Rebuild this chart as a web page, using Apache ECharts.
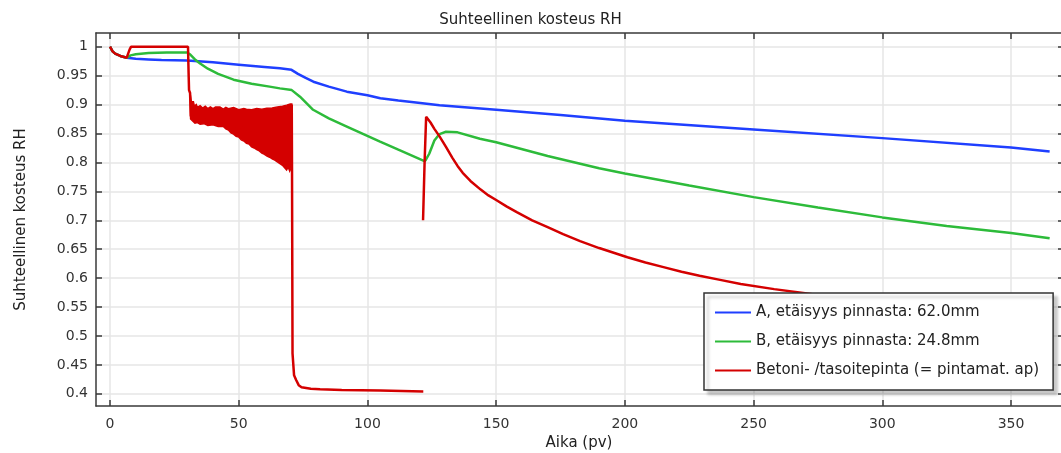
<!DOCTYPE html>
<html>
<head>
<meta charset="utf-8">
<title>Suhteellinen kosteus RH</title>
<script src="https://cdn.jsdelivr.net/npm/echarts@6.0.0/dist/echarts.min.js"></script>
<style>
  html, body { margin: 0; padding: 0; background: #fff; }
  #chart { width: 1061px; height: 453px; }
</style>
</head>
<body>
<div id="chart"></div>
<script>
// Tick positions
const xTicks = [0, 50, 100, 150, 200, 250, 300, 350];
const yTicks = [0.4, 0.45, 0.5, 0.55, 0.6, 0.65, 0.7, 0.75, 0.8, 0.85, 0.9, 0.95, 1];

// Series names
const nameA = 'A, etäisyys pinnasta: 62.0mm';
const nameB = 'B, etäisyys pinnasta: 24.8mm';
const nameC = 'Betoni- /tasoitepinta (= pintamat. ap)';

// A: 62.0 mm from surface  [day, RH]
const seriesA = [
  [0, 1.0], [1, 0.992], [2, 0.988], [4, 0.984], [6.5, 0.981], [10, 0.979], [15, 0.978],
  [20, 0.977], [30, 0.976], [40, 0.973], [50, 0.969], [60, 0.965], [66, 0.9626],
  [70.5, 0.960], [73, 0.953], [76, 0.946], [79, 0.9395], [85, 0.931], [92, 0.9223],
  [100, 0.916], [105, 0.9108], [112, 0.907], [118, 0.904], [128, 0.899], [150, 0.891],
  [175, 0.882], [200, 0.872], [250, 0.857], [300, 0.842], [350, 0.826], [365, 0.819]
];

// B: 24.8 mm from surface
const seriesB = [
  [0, 1.0], [1, 0.992], [2, 0.988], [4, 0.984], [6.5, 0.981], [8, 0.985], [10, 0.987],
  [15, 0.989], [22, 0.990], [30, 0.990], [31, 0.987], [33, 0.978], [35, 0.971],
  [38, 0.962], [42, 0.953], [48, 0.943], [55, 0.936], [62, 0.931], [66, 0.928],
  [70.6, 0.925], [73.8, 0.9136], [78.9, 0.891], [85, 0.876], [92, 0.862],
  [104.9, 0.836], [112, 0.822], [121.7, 0.803], [122.5, 0.803], [124, 0.815],
  [126, 0.838], [128, 0.849], [130.5, 0.853], [135, 0.852], [143.7, 0.841],
  [150, 0.835], [170, 0.811], [190, 0.790], [200, 0.781], [225, 0.760], [250, 0.740],
  [275, 0.722], [300, 0.705], [325, 0.690], [350, 0.678], [365, 0.669]
];

// Concrete / screed surface, first period (until the surface is covered)
const surfaceEarly = [
  [0, 1.0], [1, 0.992], [2, 0.988], [4, 0.984], [6.5, 0.981], [7.2, 0.982], [7.6, 0.995],
  [8.2, 1.0], [30.3, 1.0], [30.5, 0.96], [30.7, 0.925], [31.1, 0.92], [31.4, 0.88],
  [70.4, 0.84], [70.6, 0.9], [70.7, 0.79], [70.9, 0.47], [71.5, 0.432], [72.3, 0.424],
  [73.3, 0.415], [74.4, 0.4115], [78, 0.409], [81.6, 0.408], [90, 0.4067],
  [105, 0.4057], [121.7, 0.404]
];

// Concrete / screed surface, after coating
const surfaceLate = [
  [121.6, 0.70], [122.2, 0.80], [122.8, 0.879], [123.5, 0.877], [124.5, 0.869],
  [126, 0.858], [128, 0.845], [130.5, 0.827], [133, 0.808], [135, 0.794], [137, 0.782],
  [140, 0.768], [144, 0.753], [147, 0.743], [150, 0.735], [154, 0.724], [158, 0.714],
  [164, 0.700], [170, 0.688], [176, 0.676], [182.6, 0.664], [190, 0.652], [201, 0.636],
  [208, 0.627], [215, 0.619], [222, 0.611], [229, 0.604], [237, 0.597], [245, 0.590],
  [258, 0.581], [270, 0.574], [280, 0.568], [300, 0.558], [315, 0.551], [330, 0.545],
  [348, 0.538], [365, 0.531]
];

// Oscillating surface RH between day 31 and 70: upper and lower edges of the band
const bandTop = [
  [31.1, 0.92], [31.6, 0.905], [32.4, 0.905], [32.8, 0.897], [33.5, 0.9], [34, 0.895],
  [35, 0.898], [36, 0.894], [37, 0.897], [38, 0.893], [39, 0.896], [40, 0.893],
  [41, 0.896], [42.7, 0.896], [44, 0.892], [45, 0.895], [46, 0.893], [48, 0.895],
  [50, 0.891], [52, 0.893], [53, 0.8918], [55, 0.891], [57, 0.893], [59, 0.892],
  [60.9, 0.8935], [63, 0.894], [65, 0.896], [67, 0.897], [68.6, 0.899], [70, 0.901],
  [70.6, 0.901]
];
const bandBottom = [
  [31.1, 0.92], [31.3, 0.875], [32, 0.872], [33, 0.868], [34, 0.869], [35, 0.866],
  [36.5, 0.867], [38, 0.864], [40, 0.865], [42, 0.862], [44, 0.862], [45, 0.858],
  [46, 0.856], [47, 0.851], [48, 0.849], [49, 0.845], [50, 0.844], [51, 0.839],
  [52, 0.837], [53, 0.833], [54, 0.832], [55, 0.827], [56, 0.825], [57, 0.822],
  [58, 0.82], [59, 0.816], [60, 0.814], [61, 0.811], [62, 0.809], [63, 0.806],
  [64, 0.804], [65, 0.801], [66, 0.798], [67, 0.795], [68, 0.79], [68.6, 0.787],
  [69.2, 0.792], [69.8, 0.785], [70.3, 0.79], [70.6, 0.80]
];

const FONT = 'DejaVu Sans';
const BLUE = '#1f3fff';
const GREEN = '#2dbb3a';
const RED = '#d40000';
const AXIS = '#3a3a3a';
const GRID = '#e6e6e6';

const xRange = { min: -5.44, max: 369.8 };
const yRange = { min: 0.379, max: 1.0237 };

function fmtY(v) { return String(parseFloat(v.toFixed(2))); }

const chart = echarts.init(document.getElementById('chart'), null, { renderer: 'canvas' });

chart.setOption({
  animation: false,
  backgroundColor: '#fff',
  textStyle: { fontFamily: FONT },
  title: {
    text: 'Suhteellinen kosteus RH',
    left: 'center',
    top: 8,
    textStyle: { fontFamily: FONT, fontSize: 15, fontWeight: 'normal', color: '#222' }
  },
  grid: { left: 96, right: -1, top: 33, bottom: 47, containLabel: false, outerBoundsMode: 'none' },
  legend: {
    data: [nameA, nameB, nameC],
    orient: 'vertical',
    left: 704,
    top: 293,
    padding: [12, 14, 12, 10],
    itemWidth: 36,
    itemHeight: 14,
    itemGap: 14,
    backgroundColor: '#fff',
    borderColor: '#333',
    borderWidth: 1.5,
    shadowColor: 'rgba(0,0,0,0.22)',
    shadowBlur: 3,
    shadowOffsetX: 4,
    shadowOffsetY: 4,
    selectedMode: false,
    itemStyle: { opacity: 0, borderWidth: 0 },
    textStyle: { fontFamily: FONT, fontSize: 15, color: '#222' }
  },
  xAxis: [
    {
      type: 'value', position: 'bottom', min: xRange.min, max: xRange.max,
      name: 'Aika (pv)', nameLocation: 'middle', nameGap: 27,
      nameTextStyle: { fontFamily: FONT, fontSize: 15, color: '#222' },
      axisLine: { show: true, onZero: false, lineStyle: { color: AXIS, width: 1.5 } },
      axisTick: { show: true, inside: true, length: 6, customValues: xTicks, lineStyle: { color: AXIS, width: 1.5 } },
      axisLabel: { customValues: xTicks, margin: 11, fontFamily: FONT, fontSize: 14, color: '#333' },
      splitLine: { show: true, lineStyle: { color: GRID, width: 1.5 } }
    },
    {
      type: 'value', position: 'top', min: xRange.min, max: xRange.max,
      axisLine: { show: true, onZero: false, lineStyle: { color: AXIS, width: 1.5 } },
      axisTick: { show: true, inside: true, length: 6, customValues: xTicks, lineStyle: { color: AXIS, width: 1.5 } },
      axisLabel: { show: false },
      splitLine: { show: false }
    }
  ],
  yAxis: [
    {
      type: 'value', position: 'left', min: yRange.min, max: yRange.max,
      name: 'Suhteellinen kosteus RH', nameLocation: 'middle', nameGap: 67,
      nameTextStyle: { fontFamily: FONT, fontSize: 15, color: '#222' },
      axisLine: { show: true, onZero: false, lineStyle: { color: AXIS, width: 1.5 } },
      axisTick: { show: true, inside: true, length: 6, customValues: yTicks, lineStyle: { color: AXIS, width: 1.5 } },
      axisLabel: { customValues: yTicks, margin: 8, formatter: fmtY, fontFamily: FONT, fontSize: 14, color: '#333' },
      splitLine: { show: true, lineStyle: { color: GRID, width: 1.5 } }
    },
    {
      type: 'value', position: 'right', min: yRange.min, max: yRange.max,
      axisLine: { show: true, onZero: false, lineStyle: { color: AXIS, width: 1.5 } },
      axisTick: { show: true, inside: true, length: 4, customValues: yTicks, lineStyle: { color: AXIS, width: 1.5 } },
      axisLabel: { show: false },
      splitLine: { show: false }
    }
  ],
  series: [
    {
      name: nameA, type: 'line', data: seriesA, symbol: 'none', clip: true,
      lineStyle: { color: BLUE, width: 2.5 }, itemStyle: { color: BLUE }
    },
    {
      name: nameB, type: 'line', data: seriesB, symbol: 'none', clip: true,
      lineStyle: { color: GREEN, width: 2.5 }, itemStyle: { color: GREEN }
    },
    {
      name: nameC, type: 'line', data: surfaceEarly, symbol: 'none', clip: true,
      lineStyle: { color: RED, width: 2.5 }, itemStyle: { color: RED }
    },
    {
      name: nameC, type: 'line', data: surfaceLate, symbol: 'none', clip: true,
      lineStyle: { color: RED, width: 2.5 }, itemStyle: { color: RED }
    },
    {
      // filled band of the oscillating surface RH
      name: 'Betoni-vaihtelu', type: 'custom', clip: true,
      data: [bandTop[0]],
      encode: { x: 0, y: 1 },
      renderItem: function (params, api) {
        const pts = bandTop.map(p => api.coord(p))
          .concat(bandBottom.slice().reverse().map(p => api.coord(p)));
        return {
          type: 'polygon',
          shape: { points: pts },
          style: { fill: RED, stroke: RED, lineWidth: 1.5 }
        };
      }
    }
  ]
});
</script>
</body>
</html>
